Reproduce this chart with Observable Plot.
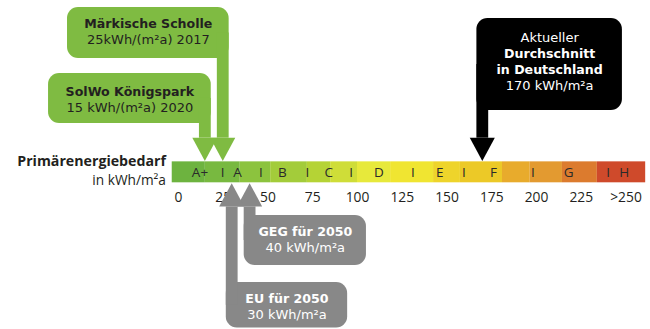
<!DOCTYPE html>
<html><head><meta charset="utf-8">
<script src="https://cdn.jsdelivr.net/npm/d3@7"></script>
<script src="https://cdn.jsdelivr.net/npm/@observablehq/plot@0.6"></script>
<style>
html,body{margin:0;padding:0;background:#fff}
svg{display:block}
</style>
</head><body><div id="chart"></div>
<script>
// ---- data ----
const tickValues = [0, 25, 50, 75, 100, 125, 150, 175, 200, 225, 250];
const tickLabels = ["0", "25", "50", "75", "100", "125", "150", "175", "200", "225", ">250"];

// colour bands of the scale bar (kWh/m²a)
const bandFrom = [-3.5, 15, 34.5, 51.5, 72, 85, 100, 118.5, 142.5, 157.5, 181, 196.5, 214.5, 234];
const bandTo   = [15, 34.5, 51.5, 72, 85, 100, 118.5, 142.5, 157.5, 181, 196.5, 214.5, 234, 261];
const bandColor = ["#6db33f", "#78b940", "#8cc33e", "#a3cc3a", "#b5d335", "#cfdd38", "#e7e93b",
                   "#f0e531", "#eed42b", "#ecc927", "#e8ab2c", "#e39a30", "#dc7b2e", "#cf4a2b"];

// class letters and separators on the bar
const classLabels = ["A+", "I", "A", "I", "B", "I", "C", "I", "D", "I", "E", "I", "F", "I", "G", "I", "H"];
const classAt     = [12, 24.6, 33, 46, 58, 72, 84, 96.5, 112, 131, 146, 159.5, 176, 198, 218, 240, 249];

// callouts
const calloutValue = [25, 15, 170, 40, 30];
const calloutLines = [
  ["Märkische Scholle", "25kWh/(m²a) 2017"],
  ["SolWo Königspark", "15 kWh/(m²a) 2020"],
  ["Aktueller", "Durchschnitt", "in Deutschland", "170 kWh/m²a"],
  ["GEG für 2050", "40 kWh/m²a"],
  ["EU für 2050", "30 kWh/m²a"]
];
const calloutBold = [[1, 0], [1, 0], [0, 1, 1, 0], [1, 0], [1, 0]];

// ---- layout (scale units; styles) ----
const calloutFill = ["#7fbb42", "#7fbb42", "#000000", "#888888", "#888888"];
const calloutText = ["#231f20", "#231f20", "#ffffff", "#ffffff", "#ffffff"];
const calloutDir  = [-1, -1, -1, 1, 1];          // -1 arrow points down to the bar, 1 points up
const boxLeft  = [-62, -72.6, null, null, null];  // null: box starts at the shaft
const boxRight = [null, null, 248, 105, 94.5];    // null: box ends at the shaft
const boxBottom = [5.93, 2.83, 3.45, -3.95, -6.93];
const boxTop    = [8.37, 5.22, 7.84, -1.56, -4.76];
const textMid   = [7.22, 3.976, 5.789, -2.705, -5.926];
const lineStep  = 0.7635;
const shaftHalf = 3.3, headHalf = 7, headBaseDown = 2.13, headTipDown = 1.02, headBaseUp = -1.15, headTipUp = -0.04;

const boxes = [], shafts = [], heads = [], texts = [];
calloutValue.forEach((v, i) => {
  const x1 = boxLeft[i] ?? v - shaftHalf;
  const x2 = boxRight[i] ?? v + shaftHalf;
  const down = calloutDir[i] < 0;
  boxes.push({x1, x2, y1: boxBottom[i], y2: boxTop[i], fill: calloutFill[i]});
  const mid = (boxBottom[i] + boxTop[i]) / 2;
  const base = down ? headBaseDown : headBaseUp;
  const tip = down ? headTipDown : headTipUp;
  shafts.push({x1: v - shaftHalf, x2: v + shaftHalf, y1: Math.min(mid, base), y2: Math.max(mid, base), fill: calloutFill[i]});
  heads.push({id: i, x: v - headHalf, y1: base, y2: base, fill: calloutFill[i]});
  heads.push({id: i, x: v, y1: base, y2: tip, fill: calloutFill[i]});
  heads.push({id: i, x: v + headHalf, y1: base, y2: base, fill: calloutFill[i]});
  const n = calloutLines[i].length;
  const cx = (x1 + x2) / 2;
  calloutLines[i].forEach((t, j) => {
    texts.push({x: cx, y: textMid[i] + ((n - 1) / 2 - j) * lineStep, text: t, bold: calloutBold[i][j], fill: calloutText[i]});
  });
});

const bands = bandFrom.map((f, i) => ({x1: f, x2: bandTo[i], fill: bandColor[i]}));
const classes = classLabels.map((t, i) => ({x: classAt[i], text: t}));
const ticks = tickValues.map((v, i) => ({x: v, text: tickLabels[i]}));

const font = "'Open Sans', sans-serif";
const calloutFont = "'DejaVu Sans', sans-serif";

const chart = Plot.plot({
  width: 650,
  height: 329,
  marginTop: 0, marginRight: 0, marginBottom: 0, marginLeft: 0,
  style: {fontFamily: font, background: "#fff"},
  x: {domain: [-99.44, 263.69], range: [0, 650], axis: null},
  y: {domain: [-7, 8.7], range: [329, 0], axis: null},
  color: {type: "identity"},
  marks: [
    Plot.rect(bands, {x1: "x1", x2: "x2", y1: 0, y2: 1, fill: "fill"}),
    Plot.text(classes, {x: "x", y: 0.5, text: "text", fill: "#2a2a2a", fontSize: 13.5}),
    Plot.text(ticks, {x: "x", y: -0.7, text: "text", fill: "#231f20", fontSize: 13.8}),
    Plot.text(["Primärenergiebedarf"], {x: -7, y: 1.04, text: d => d, textAnchor: "end", fontWeight: "bold", fontSize: 14.2, fill: "#231f20"}),
    Plot.text(["in kWh/m²a"], {x: -7, y: 0.1, text: d => d, textAnchor: "end", fontSize: 13.7, fill: "#231f20"}),
    Plot.rect(boxes, {x1: "x1", x2: "x2", y1: "y1", y2: "y2", fill: "fill", rx: 11}),
    Plot.rect(shafts, {x1: "x1", x2: "x2", y1: "y1", y2: "y2", fill: "fill"}),
    Plot.areaY(heads, {x: "x", y1: "y1", y2: "y2", z: "id", fill: "fill"}),
    Plot.text(texts.filter(d => d.bold), {x: "x", y: "y", text: "text", fill: "fill", fontWeight: "bold", fontSize: 12.6, fontFamily: calloutFont}),
    Plot.text(texts.filter(d => !d.bold), {x: "x", y: "y", text: "text", fill: "fill", fontSize: 13, fontFamily: calloutFont})
  ]
});
document.getElementById("chart").append(chart);
</script>
</body></html>
